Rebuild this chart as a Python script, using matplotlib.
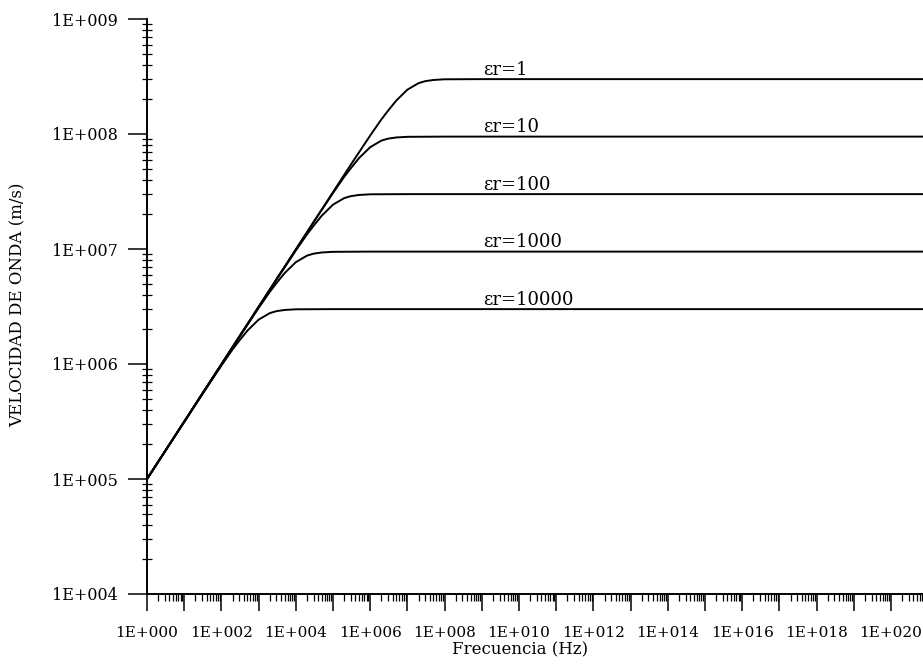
import numpy as np
import matplotlib
matplotlib.use('Agg')
import matplotlib.pyplot as plt
from matplotlib.ticker import LogLocator, FuncFormatter, NullFormatter

plt.rcParams['font.family'] = ['DejaVu Serif']

# curves (frequency in Hz, velocity in m/s)
f_er1 = [1e0, 3e5, 1e6, 2e6, 3e6, 5e6, 1e7, 2e7, 3e7, 5e7, 1e8, 1e9, 1e21]
v_er1 = [1e5, 5.4e7, 9.7e7, 1.34e8, 1.59e8, 1.95e8, 2.43e8, 2.77e8, 2.88e8, 2.95e8, 2.99e8, 3.0e8, 3.0e8]

f_er10 = [1e0, 3e4, 1e5, 2e5, 3e5, 5e5, 1e6, 2e6, 3e6, 5e6, 1e7, 1e8, 1e21]
v_er10 = [1e5, 1.71e7, 3.07e7, 4.24e7, 5.03e7, 6.17e7, 7.68e7, 8.76e7, 9.11e7, 9.33e7, 9.45e7, 9.49e7, 9.49e7]

f_er100 = [1e0, 3e3, 1e4, 2e4, 3e4, 5e4, 1e5, 2e5, 3e5, 5e5, 1e6, 1e7, 1e21]
v_er100 = [1e5, 5.4e6, 9.7e6, 1.34e7, 1.59e7, 1.95e7, 2.43e7, 2.77e7, 2.88e7, 2.95e7, 2.99e7, 3.0e7, 3.0e7]

f_er1000 = [1e0, 3e2, 1e3, 2e3, 3e3, 5e3, 1e4, 2e4, 3e4, 5e4, 1e5, 1e6, 1e21]
v_er1000 = [1e5, 1.71e6, 3.07e6, 4.24e6, 5.03e6, 6.17e6, 7.68e6, 8.76e6, 9.11e6, 9.33e6, 9.45e6, 9.49e6, 9.49e6]

f_er10000 = [1e0, 3e1, 1e2, 2e2, 3e2, 5e2, 1e3, 2e3, 3e3, 5e3, 1e4, 1e5, 1e21]
v_er10000 = [1e5, 5.4e5, 9.7e5, 1.34e6, 1.59e6, 1.95e6, 2.43e6, 2.77e6, 2.88e6, 2.95e6, 2.99e6, 3.0e6, 3.0e6]

labels = ['\u03b5r=1', '\u03b5r=10', '\u03b5r=100', '\u03b5r=1000', '\u03b5r=10000']
curves = [(f_er1, v_er1), (f_er10, v_er10), (f_er100, v_er100),
          (f_er1000, v_er1000), (f_er10000, v_er10000)]

fig = plt.figure(figsize=(9.23, 6.70), dpi=100)
ax = fig.add_axes([147/923, 76/670, 776/923, 575/670])

for (f, v), lab in zip(curves, labels):
    ax.plot(f, v, color='black', lw=1.4, solid_capstyle='butt')
    ax.annotate(lab, xy=(1.1e9, v[-1]), xytext=(0, 3), textcoords='offset points',
                ha='left', va='baseline', fontsize=13)

ax.set_xscale('log')
ax.set_yscale('log')
ax.set_xlim(1e0, 10**(776/37.2))
ax.set_ylim(1e4, 1e9)

ax.spines['top'].set_visible(False)
ax.spines['right'].set_visible(False)
ax.spines['left'].set_linewidth(1.4)
ax.spines['bottom'].set_linewidth(1.4)

ax.xaxis.set_major_locator(LogLocator(base=10, numticks=100))
ax.xaxis.set_minor_locator(LogLocator(base=10, subs=np.arange(2, 10), numticks=100))
ax.yaxis.set_major_locator(LogLocator(base=10, numticks=100))
ax.yaxis.set_minor_locator(LogLocator(base=10, subs=np.arange(2, 10), numticks=100))

def xfmt(x, pos):
    e = int(round(np.log10(x)))
    return '1E+%03d' % e if e % 2 == 0 else ''

ax.xaxis.set_major_formatter(FuncFormatter(xfmt))
ax.yaxis.set_major_formatter(FuncFormatter(lambda y, pos: '1E+%03d' % int(round(np.log10(y)))))
ax.xaxis.set_minor_formatter(NullFormatter())
ax.yaxis.set_minor_formatter(NullFormatter())

ax.tick_params(axis='x', which='major', direction='out', length=12, width=1.1, pad=11, labelsize=11)
ax.tick_params(axis='x', which='minor', direction='out', length=5, width=0.9)
ax.tick_params(axis='y', which='major', direction='out', length=14, width=1.1, pad=7, labelsize=11.5)
ax.tick_params(axis='y', which='minor', direction='inout', length=7, width=0.9)

fig.text(520/923, 1 - 650/670, 'Frecuencia (Hz)', ha='center', va='center', fontsize=12)
fig.text(18/923, 1 - 305/670, 'VELOCIDAD DE ONDA (m/s)', ha='center', va='center',
         rotation=90, fontsize=12)

fig.savefig('out.png', dpi=100, facecolor='white')
